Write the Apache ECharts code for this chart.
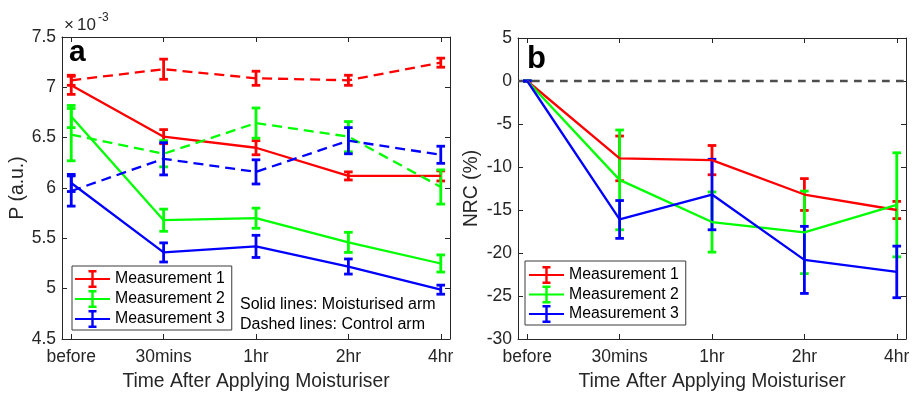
<!DOCTYPE html>
<html>
<head>
<meta charset="utf-8">
<script src="https://cdn.jsdelivr.net/npm/echarts@6/dist/echarts.min.js"></script>
<style>
  html, body { margin: 0; padding: 0; background: #fff; }
  #chart { width: 914px; height: 396px; }
</style>
</head>
<body>
<div id="chart"></div>
<script>
const categories = ['before', '30mins', '1hr', '2hr', '4hr'];

// panel a: P (x1e-3), moisturised arm (solid)
const moist1 = [7.02, 6.51, 6.40, 6.12, 6.12];
const moist1Err = [0.09, 0.07, 0.07, 0.04, 0.05];
const moist2 = [6.71, 5.68, 5.70, 5.46, 5.25];
const moist2Err = [0.11, 0.11, 0.10, 0.10, 0.085];
const moist3 = [6.05, 5.36, 5.42, 5.22, 4.99];
const moist3Err = [0.085, 0.095, 0.11, 0.075, 0.045];

// panel a: control arm (dashed)
const ctrl1 = [7.07, 7.18, 7.09, 7.07, 7.245];
const ctrl1Err = [0.05, 0.10, 0.07, 0.05, 0.045];
const ctrl2 = [6.53, 6.34, 6.645, 6.51, 6.01];
const ctrl2Err = [0.26, 0.13, 0.15, 0.15, 0.17];
const ctrl3 = [5.97, 6.29, 6.16, 6.47, 6.33];
const ctrl3Err = [0.15, 0.16, 0.12, 0.13, 0.085];

// panel b: NRC (%)
const nrc1 = [0, -9.0, -9.2, -13.2, -15.0];
const nrc1Err = [0, 2.6, 1.7, 1.85, 1.0];
const nrc2 = [0, -11.5, -16.4, -17.6, -14.4];
const nrc2Err = [0, 5.8, 3.5, 4.8, 6.05];
const nrc3 = [0, -16.1, -13.2, -20.8, -22.2];
const nrc3Err = [0, 2.2, 4.1, 3.9, 3.0];

const xRange = [0.9, 5.1];
const pTicks = { min: 4.5, max: 7.5, interval: 0.5 };
const nrcTicks = { min: -30, max: 5, interval: 5 };
const zeroLevel = 0;

const RED = '#ff0000', GREEN = '#00ff00', BLUE = '#0000ff';
const AXIS = '#262626';
const FONT = 'Liberation Sans, Arial, sans-serif';
const catPos = categories.map((c, i) => i + 1);

const chart = echarts.init(document.getElementById('chart'));

function errRender(params, api) {
  const x = api.value(0), y = api.value(1), e = api.value(2);
  const hi = api.coord([x, y + e]);
  const lo = api.coord([x, y - e]);
  const w = 4.3;
  const style = { stroke: api.visual('color'), lineWidth: 2.8 };
  return {
    type: 'group',
    children: [
      { type: 'line', shape: { x1: hi[0], y1: hi[1], x2: lo[0], y2: lo[1] }, style },
      { type: 'line', shape: { x1: hi[0] - w, y1: hi[1], x2: hi[0] + w, y2: hi[1] }, style },
      { type: 'line', shape: { x1: lo[0] - w, y1: lo[1], x2: lo[0] + w, y2: lo[1] }, style }
    ]
  };
}

function lineSeries(name, vals, color, dashed, xi, yi) {
  return {
    name, type: 'line', xAxisIndex: xi, yAxisIndex: yi,
    data: vals.map((v, i) => [catPos[i], v]),
    symbol: 'none', color,
    lineStyle: { width: 2.3, color, type: dashed ? [10, 6] : 'solid' },
    emphasis: { disabled: true }
  };
}

function errSeries(vals, errs, color, xi, yi) {
  return {
    name: 'err', type: 'custom', xAxisIndex: xi, yAxisIndex: yi,
    itemStyle: { color },
    data: vals.map((v, i) => [catPos[i], v, errs[i]]),
    renderItem: errRender
  };
}

function xAxes(gridIndex) {
  const base = {
    type: 'value', gridIndex, min: xRange[0], max: xRange[1],
    axisLine: { show: true, onZero: false, lineStyle: { color: AXIS, width: 1 } },
    axisTick: { show: true, inside: true, length: 5, customValues: catPos, lineStyle: { color: AXIS } },
    splitLine: { show: false }
  };
  return [
    Object.assign({}, base, {
      position: 'bottom',
      name: 'Time After Applying Moisturiser',
      nameLocation: 'middle', nameGap: 33,
      nameTextStyle: { fontFamily: FONT, fontSize: 19.3, color: AXIS },
      axisLabel: {
        customValues: catPos, margin: 9,
        fontFamily: FONT, fontSize: 17.5, color: AXIS,
        formatter: v => categories[Math.round(v) - 1] || ''
      }
    }),
    Object.assign({}, base, { position: 'top', axisLabel: { show: false } })
  ];
}

function yAxes(gridIndex, ticks, name, nameGap) {
  const base = {
    type: 'value', gridIndex, min: ticks.min, max: ticks.max, interval: ticks.interval,
    axisLine: { show: true, onZero: false, lineStyle: { color: AXIS, width: 1 } },
    axisTick: { show: true, inside: true, length: 5, lineStyle: { color: AXIS } },
    splitLine: { show: false }
  };
  return [
    Object.assign({}, base, {
      position: 'left', name, nameLocation: 'middle', nameGap,
      nameTextStyle: { fontFamily: FONT, fontSize: 19.3, color: AXIS },
      axisLabel: { margin: 6, fontFamily: FONT, fontSize: 17.5, color: AXIS }
    }),
    Object.assign({}, base, { position: 'right', axisLabel: { show: false } })
  ];
}

const legendIcon = 'path://M0,9H35V11H0Z M16.3,1H18.7V19H16.3Z M13.5,1H21.5V3.4H13.5Z M13.5,16.6H21.5V19H13.5Z';
function legendAt(left, top, padding, gap) {
  return {
    left, top, orient: 'vertical', padding, itemGap: gap,
    itemWidth: 35, itemHeight: 20, icon: legendIcon,
    itemStyle: { borderWidth: 0 },
    backgroundColor: '#fff', borderColor: '#3a3a3a', borderWidth: 1, borderRadius: 0,
    textStyle: { fontFamily: FONT, fontSize: 15.8, color: '#000' },
    selectedMode: false,
    data: ['Measurement 1', 'Measurement 2', 'Measurement 3']
  };
}

chart.setOption({
  animation: false,
  backgroundColor: '#fff',
  grid: [
    { left: 62, top: 37, width: 388, height: 303 },
    { left: 518, top: 38, width: 388, height: 302 }
  ],
  xAxis: [...xAxes(0), ...xAxes(1)],
  yAxis: [...yAxes(0, pTicks, 'P (a.u.)', 35), ...yAxes(1, nrcTicks, 'NRC (%)', 37)],
  legend: [legendAt(72, 266, [4, 7, 2, 3], 2), legendAt(525, 261, [5, 7, 2, 4], 1.5)],
  series: [
    {
      name: 'zero', type: 'line', xAxisIndex: 2, yAxisIndex: 2, z: 1,
      data: xRange.map(x => [x, zeroLevel]),
      symbol: 'none', silent: true,
      lineStyle: { color: '#4d4d4d', width: 2.6, type: [7.7, 6.3] },
      emphasis: { disabled: true }
    },
    lineSeries('Measurement 1', moist1, RED, false, 0, 0),
    errSeries(moist1, moist1Err, RED, 0, 0),
    lineSeries('Measurement 2', moist2, GREEN, false, 0, 0),
    errSeries(moist2, moist2Err, GREEN, 0, 0),
    lineSeries('Measurement 3', moist3, BLUE, false, 0, 0),
    errSeries(moist3, moist3Err, BLUE, 0, 0),
    lineSeries('Control 1', ctrl1, RED, true, 0, 0),
    errSeries(ctrl1, ctrl1Err, RED, 0, 0),
    lineSeries('Control 2', ctrl2, GREEN, true, 0, 0),
    errSeries(ctrl2, ctrl2Err, GREEN, 0, 0),
    lineSeries('Control 3', ctrl3, BLUE, true, 0, 0),
    errSeries(ctrl3, ctrl3Err, BLUE, 0, 0),
    lineSeries('Measurement 1', nrc1, RED, false, 2, 2),
    errSeries(nrc1, nrc1Err, RED, 2, 2),
    lineSeries('Measurement 2', nrc2, GREEN, false, 2, 2),
    errSeries(nrc2, nrc2Err, GREEN, 2, 2),
    lineSeries('Measurement 3', nrc3, BLUE, false, 2, 2),
    errSeries(nrc3, nrc3Err, BLUE, 2, 2)
  ],
  graphic: [
    { type: 'text', left: 69, top: 38, style: { text: 'a', font: 'bold 30px ' + FONT, fill: '#000' } },
    { type: 'text', left: 527, top: 44, style: { text: 'b', font: 'bold 31px ' + FONT, fill: '#000' } },
    { type: 'text', left: 64, top: 17, style: { text: '×', font: '17px ' + FONT, fill: AXIS } },
    { type: 'text', left: 77, top: 17, style: { text: '10', font: '17px ' + FONT, fill: AXIS } },
    { type: 'text', left: 98, top: 12, style: { text: '-3', font: '12px ' + FONT, fill: AXIS } },
    { type: 'text', left: 240, top: 297, style: { text: 'Solid lines: Moisturised arm', font: '16px ' + FONT, fill: '#000' } },
    { type: 'text', left: 240, top: 317, style: { text: 'Dashed lines: Control arm', font: '16px ' + FONT, fill: '#000' } }
  ]
});
</script>
</body>
</html>
